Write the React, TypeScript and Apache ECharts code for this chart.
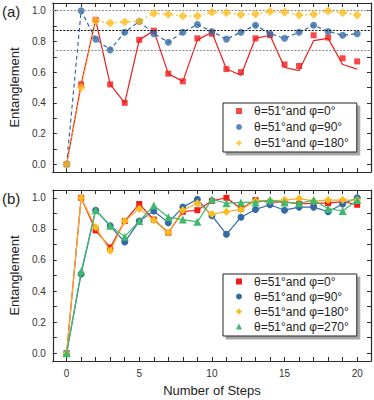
import React, { useEffect, useRef } from "react";
import * as echarts from "echarts";

const steps = [0, 1, 2, 3, 4, 5, 6, 7, 8, 9, 10, 11, 12, 13, 14, 15, 16, 17, 18, 19, 20];

// Panel (a)
const redA = [0, 0.52, 0.94, 0.52, 0.40, 0.81, 0.87, 0.59, 0.54, 0.82, 0.85, 0.62, 0.60, 0.82, 0.84, 0.65, 0.64, 0.84, 0.825, 0.69, 0.67];
const redTheoryA = [0, 0.52, 0.94, 0.52, 0.40, 0.81, 0.87, 0.59, 0.54, 0.81, 0.86, 0.62, 0.58, 0.82, 0.84, 0.63, 0.61, 0.805, 0.82, 0.65, 0.62];
const blueA = [0, 1.0, 0.815, 0.745, 0.86, 0.93, 0.85, 0.795, 0.86, 0.91, 0.865, 0.815, 0.86, 0.905, 0.85, 0.82, 0.86, 0.905, 0.865, 0.84, 0.85];
const yellowA = [0, 0.50, 0.935, 0.92, 0.927, 0.93, 0.983, 0.977, 0.966, 0.966, 0.99, 0.987, 0.974, 0.979, 0.994, 0.99, 0.972, 0.977, 0.998, 0.987, 0.972];
const refLines = [1.0, 0.873, 0.741];

// Panel (b)
const redB = [0, 1.0, 0.79, 0.68, 0.85, 0.96, 0.86, 0.775, 0.91, 0.92, 0.98, 1.0, 0.93, 0.985, 0.97, 0.975, 0.96, 0.965, 0.965, 0.975, 0.955];
const blueB = [0, 0.51, 0.92, 0.82, 0.715, 0.85, 0.915, 0.84, 0.94, 0.99, 0.885, 0.765, 0.875, 0.925, 0.955, 0.92, 0.94, 0.94, 0.91, 0.96, 1.0];
const yellowB = [0, 1.0, 0.81, 0.66, 0.85, 0.93, 0.855, 0.775, 0.92, 0.965, 0.895, 0.91, 0.925, 0.98, 0.98, 0.985, 0.995, 0.98, 0.985, 0.985, 0.985];
const greenB = [0, 0.525, 0.92, 0.82, 0.75, 0.85, 0.95, 0.875, 0.86, 0.845, 0.99, 0.965, 0.97, 0.97, 0.985, 0.97, 0.965, 0.985, 0.93, 0.915, 0.985];

const yTicks = [0, 0.1, 0.2, 0.3, 0.4, 0.5, 0.6, 0.7, 0.8, 0.9, 1.0];
const yLabels = [0, 0.2, 0.4, 0.6, 0.8, 1.0];
const xLabels = [0, 5, 10, 15, 20];

const namesA = ["θ=51°and φ=0°", "θ=51°and φ=90°", "θ=51°and φ=180°"];
const namesB = ["θ=51°and φ=0°", "θ=51°and φ=90°", "θ=51°and φ=180°", "θ=51°and φ=270°"];

const RED = "#f01c1c";
const BLUE = "#346aa6";
const YELLOW = "#fcbd1c";
const ORANGE = "#f7a928";
const GREEN = "#3fba6d";
const FONT = "Liberation Sans, Arial, sans-serif";
const AX = "#2b2b2b";

const pts = (ys: number[]) => steps.map((x, i) => [x, ys[i]]);

export default function App() {
  const ref = useRef<HTMLDivElement>(null);
  useEffect(() => {
    if (!ref.current) return;
    const chart = echarts.init(ref.current, null, { renderer: "svg" });

    const xAx = (grid: number, pos: string, labels: boolean, name?: string) => ({
      type: "value",
      gridIndex: grid,
      position: pos,
      min: -0.95,
      max: 20.95,
      name: name || "",
      nameLocation: "middle",
      nameGap: 23,
      nameTextStyle: { fontFamily: FONT, fontSize: 13, color: "#222" },
      axisLine: { show: true, onZero: false, lineStyle: { color: AX, width: 1.2 } },
      axisTick: { show: true, inside: true, length: 4, customValues: steps, lineStyle: { color: AX } },
      axisLabel: {
        show: labels,
        customValues: xLabels,
        fontFamily: FONT,
        fontSize: 10,
        color: "#333",
        margin: 7,
      },
      splitLine: { show: false },
    });
    const yAx = (grid: number, pos: string, labels: boolean) => ({
      type: "value",
      gridIndex: grid,
      position: pos,
      min: -0.05,
      max: 1.05,
      name: labels ? "Entanglement" : "",
      nameLocation: "middle",
      nameGap: 27,
      nameTextStyle: { fontFamily: FONT, fontSize: 13, color: "#222" },
      axisLine: { show: true, onZero: false, lineStyle: { color: AX, width: 1.2 } },
      axisTick: { show: true, inside: true, length: 4, customValues: yTicks, lineStyle: { color: AX } },
      axisLabel: {
        show: labels,
        customValues: yLabels,
        formatter: (v: number) => v.toFixed(1),
        fontFamily: FONT,
        fontSize: 10,
        color: "#333",
        margin: 7,
      },
      splitLine: { show: false },
    });

    const legendBase = {
      orient: "vertical",
      left: 223,
      itemGap: 0,
      itemWidth: 6,
      itemHeight: 6,
      backgroundColor: "#fff",
      borderColor: "#222",
      borderWidth: 1,
      borderRadius: 0,
      shadowColor: "rgba(0,0,0,0.35)",
      shadowBlur: 1,
      shadowOffsetX: 3,
      shadowOffsetY: 3,
      selectedMode: false,
    };

    const option: any = {
      animation: false,
      backgroundColor: "#fff",
      grid: [
        { left: 47, top: 3, width: 324, height: 169 },
        { left: 47, top: 190, width: 324, height: 171 },
      ],
      xAxis: [xAx(0, "bottom", false), xAx(0, "top", false), xAx(1, "bottom", true, "Number of Steps"), xAx(1, "top", false)],
      yAxis: [yAx(0, "left", true), yAx(0, "right", false), yAx(1, "left", true), yAx(1, "right", false)],
      graphic: [
        { type: "text", left: 2, top: 4, style: { text: "(a)", fontFamily: FONT, fontSize: 15, fill: "#222" } },
        { type: "text", left: 2, top: 191, style: { text: "(b)", fontFamily: FONT, fontSize: 15, fill: "#222" } },
      ],
      legend: [
        {
          ...legendBase,
          top: 103,
          padding: [0, 8, 1, 13],
          textStyle: { fontFamily: FONT, fontSize: 12, color: "#222", lineHeight: 16, padding: [0, 0, 0, 7] },
          data: [
            { name: namesA[0], icon: "rect" },
            { name: namesA[1], icon: "circle" },
            { name: namesA[2], icon: "diamond" },
          ],
        },
        {
          ...legendBase,
          top: 274,
          padding: [0, 8, 2, 13],
          textStyle: { fontFamily: FONT, fontSize: 12, color: "#222", lineHeight: 15, padding: [0, 0, 0, 7] },
          formatter: (n: string) => n.replace("#b", ""),
          data: [
            { name: namesB[0] + "#b", icon: "rect" },
            { name: namesB[1] + "#b", icon: "circle" },
            { name: namesB[2] + "#b", icon: "diamond" },
            { name: namesB[3] + "#b", icon: "triangle" },
          ],
        },
      ],
      series: [
        // Panel (a)
        {
          type: "line", xAxisIndex: 0, yAxisIndex: 0, data: pts(redTheoryA), symbol: "none",
          lineStyle: { color: RED, width: 1.2 }, z: 2,
          markLine: {
            silent: true, symbol: "none", label: { show: false },
            data: [
              { yAxis: refLines[0], lineStyle: { color: "#888", type: [2, 1.5], width: 1.2 } },
              { yAxis: refLines[1], lineStyle: { color: "#111", type: [2, 1.5], width: 1 } },
              { yAxis: refLines[2], lineStyle: { color: "#888", type: [2, 1.5], width: 1.2 } },
            ],
          },
        },
        {
          name: namesA[0], type: "scatter", xAxisIndex: 0, yAxisIndex: 0, data: pts(redA),
          symbol: "rect", symbolSize: 6, itemStyle: { color: RED }, z: 3,
        },
        {
          type: "line", xAxisIndex: 0, yAxisIndex: 0, data: pts(blueA), symbol: "none",
          lineStyle: { color: BLUE, width: 1.2, type: [4, 3] }, z: 2,
        },
        {
          name: namesA[1], type: "scatter", xAxisIndex: 0, yAxisIndex: 0, data: pts(blueA),
          symbol: "circle", symbolSize: 7, itemStyle: { color: BLUE }, z: 4,
        },
        {
          type: "line", xAxisIndex: 0, yAxisIndex: 0, data: pts(yellowA), symbol: "none",
          lineStyle: { color: YELLOW, width: 1.5, type: [1.5, 3] }, z: 2,
        },
        {
          name: namesA[2], type: "scatter", xAxisIndex: 0, yAxisIndex: 0, data: pts(yellowA),
          symbol: "diamond", symbolSize: 9, itemStyle: { color: YELLOW }, z: 5,
        },
        // Panel (b)
        {
          name: namesB[0] + "#b", type: "line", xAxisIndex: 2, yAxisIndex: 2, data: pts(redB),
          symbol: "rect", symbolSize: 6, showSymbol: true, itemStyle: { color: RED },
          lineStyle: { color: RED, width: 1.2 }, z: 2,
        },
        {
          name: namesB[1] + "#b", type: "line", xAxisIndex: 2, yAxisIndex: 2, data: pts(blueB),
          symbol: "circle", symbolSize: 7, showSymbol: true, itemStyle: { color: BLUE },
          lineStyle: { color: BLUE, width: 1.2 }, z: 3,
        },
        {
          name: namesB[2] + "#b", type: "line", xAxisIndex: 2, yAxisIndex: 2, data: pts(yellowB),
          symbol: "diamond", symbolSize: 8, showSymbol: true, itemStyle: { color: YELLOW },
          lineStyle: { color: ORANGE, width: 1.2 }, z: 4,
        },
        {
          name: namesB[3] + "#b", type: "line", xAxisIndex: 2, yAxisIndex: 2, data: pts(greenB),
          symbol: "triangle", symbolSize: 8, showSymbol: true, itemStyle: { color: GREEN },
          lineStyle: { color: GREEN, width: 1.2 }, z: 5,
        },
      ],
    };
    chart.setOption(option);
    return () => chart.dispose();
  }, []);
  return <div ref={ref} style={{ position: "fixed", left: 0, top: 0, width: 374, height: 400 }} />;
}
